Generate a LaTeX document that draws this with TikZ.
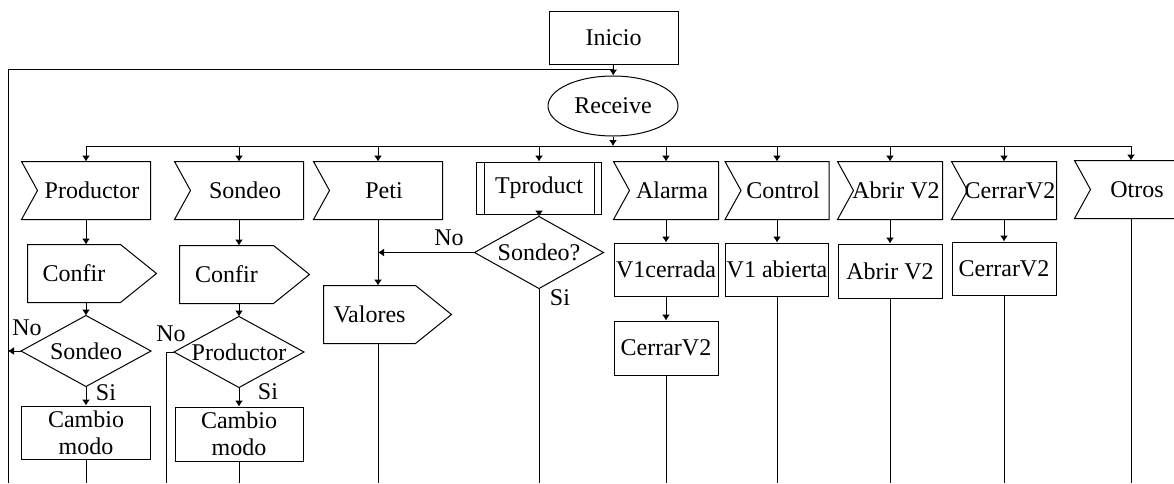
\documentclass[tikz,border=0pt]{standalone}
\usepackage{fontspec}
\setmainfont{Liberation Serif}
\usetikzlibrary{shapes.geometric,arrows.meta}

\begin{document}
\begin{tikzpicture}[
  x=0.5pt, y=-0.5pt,
  line width=0.5pt,
  >={Latex[length=3pt,width=4pt]},
  every node/.style={font=\fontsize{12}{13.5}\selectfont},
  caja/.style={draw, inner sep=0pt, minimum width=52pt, minimum height=26.5pt},
  senal/.style={inner sep=0pt, minimum width=64pt, minimum height=28.5pt, execute at begin node=\hspace{6pt}},
  envio/.style={inner sep=0pt, minimum width=46pt, minimum height=28.5pt},
  rombo/.style={inner sep=0pt, minimum width=64.5pt, minimum height=35pt},
]

\useasboundingbox (0,0) rectangle (1174,483);
\clip (0,0) rectangle (1174,483);

\coordinate (looptop) at (8,69);
\coordinate (bot) at (0,483);
\coordinate (bus) at (613,146);
\coordinate (nop) at (166,352);

\node [caja, minimum width=64.5pt] (inicio) at (613.5,37.5) {Inicio};
\node [draw, ellipse, inner sep=0pt, minimum width=65pt, minimum height=30pt] (receive) at (613,106) {Receive};

% mensajes
\node [senal] (prod) at (86,190.5) {Productor};
\node [senal] (sond) at (239,190.5) {Sondeo};
\node [senal] (peti) at (378,190.5) {Peti};
\node [caja, minimum width=62.5pt, minimum height=26pt] (tprod) at (539,188) {Tproduct};
\node [senal, minimum width=52pt] (alarma) at (666,190.5) {Alarma};
\node [senal, minimum width=51.5pt] (control) at (777,190.5) {Control};
\node [senal, minimum width=52pt] (abrir) at (890,190.5) {Abrir V2};
\node [senal, minimum width=52pt] (cerrar) at (1004,190.5) {CerrarV2};
\node [senal, minimum width=56pt] (otros) at (1131,189.5) {Otros};

\foreach \n in {prod,sond,peti,alarma,control,abrir,cerrar,otros}
	\draw (\n.north west) -- (\n.north east) -- (\n.south east) -- (\n.south west) -- ([xshift=8pt]\n.west) -- cycle;

\draw ([xshift=4pt]tprod.north west) -- ([xshift=4pt]tprod.south west);
\draw ([xshift=-4pt]tprod.north east) -- ([xshift=-4pt]tprod.south east);

% salidas
\node [envio] (confir1) at (74,273.5) {Confir};
\node [envio, minimum width=46.5pt] (confir2) at (226.5,274.5) {Confir};
\node [envio, minimum width=45.5pt] (valores) at (369.5,314.5) {Valores};

\foreach \n in {confir1,confir2,valores}
	\draw (\n.north west) -- (\n.north east) -- ([xshift=18pt]\n.east) -- (\n.south east) -- (\n.south west) -- cycle;

% decisiones
\node [rombo] (sondeo1) at (86,351) {Sondeo};
\node [rombo] (prodq) at (239,352) {Productor};
\node [rombo, minimum width=64pt, minimum height=35.5pt] (sondq) at (539,252.5) {Sondeo?};

\foreach \n in {sondeo1,prodq,sondq}
	\draw (\n.north) -- (\n.east) -- (\n.south) -- (\n.west) -- cycle;

% tareas
\node [caja, minimum width=64.5pt, align=center] (cambio1) at (86,432.5) {Cambio\\modo};
\node [caja, minimum width=64pt, minimum height=27pt, align=center] (cambio2) at (239,434) {Cambio\\modo};
\node [caja] (v1c) at (666,269.5) {V1cerrada};
\node [caja, minimum height=27pt] (cerr1) at (666,348) {CerrarV2};
\node [caja, minimum width=51.5pt] (v1a) at (777,269.5) {V1 abierta};
\node [caja, minimum height=27pt] (abrir2) at (890,271) {Abrir V2};
\node [caja] (cerr2) at (1004,268.5) {CerrarV2};

\node (no1) at (27,328) {No};
\node (si1) at (106,393) {Si};
\node (no2) at (171,334) {No};
\node (si2) at (268,392) {Si};
\node (no3) at (449,238) {No};
\node (si3) at (560,298) {Si};

% conexiones
\draw [->] (inicio) -- (receive);
\draw (bot -| looptop) -- (looptop) -- (looptop -| receive);
\draw [->] (receive) -- (bus);
\draw (prod |- bus) -- (otros |- bus);
\foreach \n in {prod,sond,peti,tprod,alarma,control,abrir,cerrar,otros}
	\draw [->] (\n |- bus) -- (\n);

\draw [->] (prod.south) -- (prod.south |- confir1.north);
\draw [->] (confir1.south -| sondeo1) -- (sondeo1);
\draw [->] (sondeo1) -- (cambio1);
\draw [->] (sondeo1.west) -- (sondeo1.west -| looptop);
\draw (cambio1) -- (cambio1 |- bot);

\draw [->] (sond.south) -- (sond.south |- confir2.north);
\draw [->] (confir2.south -| prodq) -- (prodq);
\draw [->] (prodq) -- (cambio2);
\draw (prodq.west) -- (nop) -- (nop |- bot);
\draw (cambio2) -- (cambio2 |- bot);

\draw [->] (peti) -- (peti |- valores.north);
\draw [->] (sondq.west) -- (sondq.west -| peti);
\draw (valores.south -| peti) -- (peti |- bot);

\draw [->] (tprod) -- (sondq);
\draw (sondq.south) -- (sondq |- bot);

\draw [->] (alarma) -- (v1c);
\draw [->] (v1c) -- (cerr1);
\draw (cerr1) -- (cerr1 |- bot);
\draw [->] (control) -- (v1a);
\draw (v1a) -- (v1a |- bot);
\draw [->] (abrir) -- (abrir2);
\draw (abrir2) -- (abrir2 |- bot);
\draw [->] (cerrar) -- (cerr2);
\draw (cerr2) -- (cerr2 |- bot);
\draw (otros) -- (otros |- bot);

\end{tikzpicture}
\end{document}
